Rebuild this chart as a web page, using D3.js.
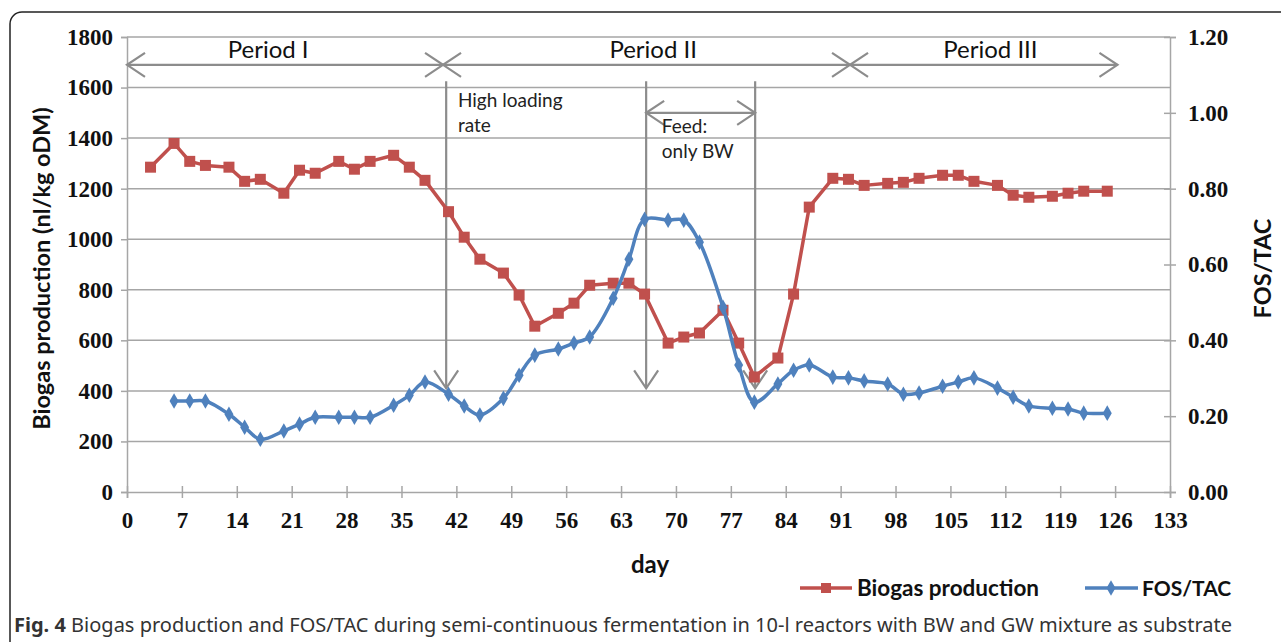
<!DOCTYPE html>
<html>
<head>
<meta charset="utf-8">
<script src="https://cdn.jsdelivr.net/npm/d3@7"></script>
<style>
  body { margin: 0; background: #fff; }
  svg { display: block; }
</style>
</head>
<body>
<main></main>
<script>
// data
let days = [3, 6, 8, 10, 13, 15, 17, 20, 22, 24, 27, 29, 31, 34, 36, 38, 41, 43, 45, 48, 50, 52, 55,
  57, 59, 62, 64, 66, 69, 71, 73, 76, 78, 80, 83, 85, 87, 90, 92, 94, 97, 99, 101, 104, 106, 108,
  111, 113, 115, 118, 120, 122, 125]
let biogas = [1285, 1379, 1308, 1292, 1285, 1229, 1237, 1182, 1273, 1261, 1308, 1277, 1308, 1332,
  1285, 1233, 1109, 1008, 921, 866, 779, 656, 707, 747, 818, 826, 826, 783, 589, 613, 629, 719,
  589, 455, 530, 783, 1127, 1241, 1237, 1213, 1221, 1225, 1241, 1253, 1253, 1229, 1213, 1174,
  1166, 1170, 1182, 1190, 1190]
// no FOS/TAC reading on day 3
let fosTac = [null, 0.24, 0.24, 0.24, 0.205, 0.171, 0.139, 0.161, 0.179, 0.197, 0.197, 0.197, 0.197,
  0.229, 0.255, 0.29, 0.258, 0.227, 0.203, 0.247, 0.308, 0.361, 0.377, 0.393, 0.409, 0.511, 0.614,
  0.719, 0.717, 0.717, 0.659, 0.487, 0.335, 0.237, 0.285, 0.321, 0.335, 0.303, 0.301, 0.293,
  0.285, 0.258, 0.261, 0.279, 0.29, 0.301, 0.274, 0.25, 0.227, 0.221, 0.219, 0.208, 0.208]

let xTicks = d3.range(0, 134, 7)
let leftTicks = d3.range(0, 1801, 200)
let rightTicks = [0, 0.2, 0.4, 0.6, 0.8, 1.0, 1.2]

// period bars: [from day, to day, label, label day]
let periods = [[0, 40.3, 'Period I', 18.0], [40.3, 92.2, 'Period II', 67.1], [92.2, 126.3, 'Period III', 110.1]]
// vertical arrows (day)
let events = [40.7, 66.2, 80.1]

let red = '#c0504d', blue = '#4f81bd', grid = '#a6a6a6', arrowCol = '#8c8c8c'

let svg = d3.select('main').append('svg')
    .attr('width', 1281)
    .attr('height', 642)

// outer frame
svg.append('rect')
    .attr('x', 10).attr('y', 12)
    .attr('width', 1300).attr('height', 650)
    .attr('rx', 12)
    .attr('fill', 'none')
    .attr('stroke', '#222')
    .attr('stroke-width', 1.5)

let x = d3.scaleLinear().domain([0, 133]).range([127, 1170])
let yL = d3.scaleLinear().domain([0, 1800]).range([492, 37])
let yR = d3.scaleLinear().domain([0, 1.2]).range([492, 37])

// gridlines
svg.append('g').selectAll('line')
    .data(leftTicks.filter(d => d > 0))
    .join('line')
    .attr('x1', x(0)).attr('x2', x(133))
    .attr('y1', d => yL(d)).attr('y2', d => yL(d))
    .attr('stroke', grid).attr('stroke-width', 1.5)

let tickFont = '"Liberation Serif", serif'

// left axis
let gl = svg.append('g').attr('transform', `translate(${x(0)},0)`)
    .call(d3.axisLeft(yL).tickValues(leftTicks).tickSize(6).tickPadding(8).tickFormat(d3.format('d')))
gl.select('.domain').attr('stroke', grid).attr('stroke-width', 1.5)
gl.selectAll('.tick line').attr('stroke', grid).attr('stroke-width', 1.5)
gl.selectAll('text').attr('font-family', tickFont).attr('font-weight', 'bold')
    .attr('font-size', 23).attr('fill', '#111')

// right axis
let gr = svg.append('g').attr('transform', `translate(${x(133)},0)`)
    .call(d3.axisRight(yR).tickValues(rightTicks).tickSize(6).tickPadding(12).tickFormat(d3.format('.2f')))
gr.select('.domain').attr('stroke', grid).attr('stroke-width', 1.5)
gr.selectAll('.tick line').attr('stroke', grid).attr('stroke-width', 1.5).attr('x1', -6)
gr.selectAll('text').attr('font-family', tickFont).attr('font-weight', 'bold')
    .attr('font-size', 23).attr('fill', '#111')

// bottom axis
let gb = svg.append('g').attr('transform', `translate(0,${yL(0)})`)
    .call(d3.axisBottom(x).tickValues(xTicks).tickSize(6).tickPadding(14).tickFormat(d3.format('d')))
gb.select('.domain').attr('stroke', grid).attr('stroke-width', 1.5)
gb.selectAll('.tick line').attr('stroke', grid).attr('stroke-width', 1.5).attr('y1', -6)
gb.selectAll('text').attr('font-family', tickFont).attr('font-weight', 'bold')
    .attr('font-size', 23).attr('fill', '#111')

// axis titles
let titleFont = 'Lato, "Open Sans", sans-serif'
svg.append('text')
    .attr('transform', `translate(50,${(yL(0) + yL(1800)) / 2 + 4}) rotate(-90)`)
    .attr('text-anchor', 'middle')
    .attr('font-family', titleFont).attr('font-weight', 'bold').attr('font-size', 23.5)
    .attr('fill', '#111')
    .text('Biogas production (nl/kg oDM)')
svg.append('text')
    .attr('transform', `translate(1271,${(yL(0) + yL(1800)) / 2 + 4}) rotate(-90)`)
    .attr('text-anchor', 'middle')
    .attr('font-family', titleFont).attr('font-weight', 'bold').attr('font-size', 23.5)
    .attr('fill', '#111')
    .text('FOS/TAC')
svg.append('text')
    .attr('x', 650).attr('y', 573)
    .attr('text-anchor', 'middle')
    .attr('font-family', titleFont).attr('font-weight', 'bold').attr('font-size', 24)
    .attr('fill', '#111')
    .text('day')

// annotation arrows
let ann = svg.append('g')
    .attr('stroke', arrowCol).attr('stroke-width', 2.2).attr('fill', 'none')
function head(px, py, dx, dy) {
    // open chevron, tip at (px,py), pointing along (dx,dy)
    let L = 18, W = 12
    let nx = -dy, ny = dx
    ann.append('path')
        .attr('d', `M${px - dx * L + nx * W},${py - dy * L + ny * W} L${px},${py} L${px - dx * L - nx * W},${py - dy * L - ny * W}`)
}
let barY = yL(1690)
periods.forEach(p => {
    ann.append('line').attr('x1', x(p[0])).attr('x2', x(p[1])).attr('y1', barY).attr('y2', barY)
    head(x(p[0]), barY, -1, 0)
    head(x(p[1]), barY, 1, 0)
})
events.forEach(d => {
    ann.append('line').attr('x1', x(d)).attr('x2', x(d)).attr('y1', yL(1625)).attr('y2', yL(410))
    head(x(d), yL(410), 0, 1)
})
let feedY = yL(1500)
ann.append('line').attr('x1', x(events[1])).attr('x2', x(events[2])).attr('y1', feedY).attr('y2', feedY)
head(x(events[1]), feedY, -1, 0)
head(x(events[2]), feedY, 1, 0)

let labFont = 'Lato, "Open Sans", sans-serif'
svg.append('g').selectAll('text')
    .data(periods)
    .join('text')
    .attr('x', d => x(d[3]))
    .attr('y', yL(1718))
    .attr('text-anchor', 'middle')
    .attr('font-family', labFont).attr('font-size', 24).attr('fill', '#111')
    .text(d => d[2])

let notes = [['High loading', 42.2, 1525], ['rate', 42.2, 1425], ['Feed:', 68.2, 1420], ['only BW', 68.2, 1322]]
svg.append('g').selectAll('text')
    .data(notes)
    .join('text')
    .attr('x', d => x(d[1])).attr('y', d => yL(d[2]))
    .attr('font-family', labFont).attr('font-size', 19).attr('fill', '#222')
    .text(d => d[0])

// series
let redLine = d3.line()
    .x((d, i) => x(days[i]))
    .y(d => yL(d))
    .curve(d3.curveLinear)
svg.append('path')
    .datum(biogas)
    .attr('d', redLine)
    .attr('fill', 'none').attr('stroke', red).attr('stroke-width', 3.5)
    .attr('stroke-linejoin', 'round')
svg.append('g').selectAll('rect')
    .data(biogas)
    .join('rect')
    .attr('x', (d, i) => x(days[i]) - 5.5).attr('y', d => yL(d) - 5.5)
    .attr('width', 11).attr('height', 11)
    .attr('fill', red)

let blueLine = d3.line()
    .defined(d => d != null)
    .x((d, i) => x(days[i]))
    .y(d => yR(d))
    .curve(d3.curveCatmullRom.alpha(0.5))
svg.append('path')
    .datum(fosTac)
    .attr('d', blueLine)
    .attr('fill', 'none').attr('stroke', blue).attr('stroke-width', 3.5)
let diamond = d3.symbol().type(d3.symbolDiamond).size(70)
svg.append('g').selectAll('path')
    .data(fosTac.map((v, i) => [days[i], v]).filter(d => d[1] != null))
    .join('path')
    .attr('d', diamond)
    .attr('transform', d => `translate(${x(d[0])},${yR(d[1])})`)
    .attr('fill', blue)

// legend
let lg = svg.append('g').attr('transform', 'translate(0,588)')
lg.append('line').attr('x1', 800).attr('x2', 852).attr('stroke', red).attr('stroke-width', 3.5)
lg.append('rect').attr('x', 821).attr('y', -5).attr('width', 10).attr('height', 10).attr('fill', red)
lg.append('text').attr('x', 857).attr('y', 8)
    .attr('font-family', titleFont).attr('font-weight', 'bold').attr('font-size', 22.5).attr('fill', '#111')
    .text('Biogas production')
lg.append('line').attr('x1', 1085).attr('x2', 1138).attr('stroke', blue).attr('stroke-width', 3.5)
lg.append('path').attr('d', diamond).attr('transform', 'translate(1111,0)').attr('fill', blue)
lg.append('text').attr('x', 1142).attr('y', 8)
    .attr('font-family', titleFont).attr('font-weight', 'bold').attr('font-size', 21).attr('fill', '#111')
    .text('FOS/TAC')

// caption
let cap = svg.append('text')
    .attr('x', 14).attr('y', 632)
    .attr('font-family', '"Noto Sans", "Open Sans", sans-serif').attr('font-size', 20).attr('fill', '#333')
cap.append('tspan').attr('font-weight', 'bold').text('Fig. 4')
cap.append('tspan').text(' Biogas production and FOS/TAC during semi-continuous fermentation in 10-l reactors with BW and GW mixture as substrate')
</script>
</body>
</html>
